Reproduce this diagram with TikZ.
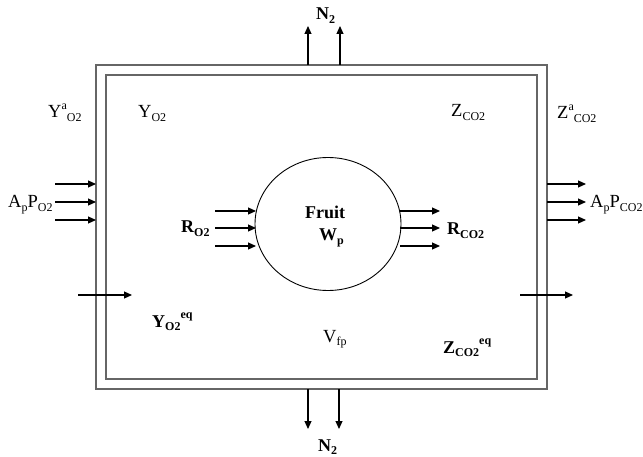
\documentclass[tikz,border=0pt]{standalone}
\usepackage{fontspec}
\setmainfont{Liberation Serif}
\usetikzlibrary{arrows.meta,shapes.geometric}
\newcommand\mylo[1]{\raisebox{-0.45ex}{\fontsize{12}{12}\selectfont #1}}
\newcommand\myhi[1]{\raisebox{1.0ex}{\fontsize{12}{12}\selectfont #1}}
\newcommand\mybl[1]{\raisebox{-0.45ex}{\fontsize{12}{12}\selectfont\bfseries #1}}
\newcommand\mybh[1]{\raisebox{1.0ex}{\fontsize{12}{12}\selectfont\bfseries #1}}
\tikzset{
  lbl/.style={anchor=base west,inner sep=0pt,font=\fontsize{18.5}{18.5}\selectfont},
  blbl/.style={anchor=base west,inner sep=0pt,font=\fontsize{18}{18}\selectfont\bfseries},
  wall/.style={draw=black!60,line width=1.3pt},
  flow/.style={draw=black,line width=1.2pt,-{Triangle[length=8pt,width=7pt]}}
}
\begin{document}
\begin{tikzpicture}[x=1pt,y=-1pt]
\useasboundingbox (0,0) rectangle (643,457);
% walls
\draw[wall] (96,65) rectangle (547,389);
\draw[wall] (106,75) rectangle (537,379);
% fruit
\node[ellipse,draw,line width=0.9pt,minimum width=146pt,minimum height=133pt,inner sep=0pt] (fruit) at (328,224) {};
\node[blbl] (fr) at (305,219) {Fruit};
\node[blbl] (wp) at (319,241) {W\mybl{p}};
% labels
\node[lbl] (yao2) at (48,118) {Y\myhi{a}\mylo{O2}};
\node[lbl] (yo2) at (138,118) {Y\mylo{O2}};
\node[lbl] (zco2) at (451,117) {Z\mylo{CO2}};
\node[lbl] (zaco2) at (557,119) {Z\myhi{a}\mylo{CO2}};
\node[lbl] (apo2) at (8,208) {A\mylo{p}P\mylo{O2}};
\node[lbl] (apco2) at (590,208) {A\mylo{p}P\mylo{CO2}};
\node[blbl] (ro2) at (181,233) {R\mybl{O2}};
\node[blbl] (rco2) at (447,235) {R\mybl{CO2}};
\node[blbl] (yeq) at (152,327) {Y\mybl{O2}\mybh{eq}};
\node[lbl] (vfp) at (323,342) {V\mylo{fp}};
\node[blbl] (zeq) at (443,353) {Z\mybl{CO2}\mybh{eq}};
\node[blbl] (n2t) at (316,20) {N\mybl{2}};
\node[blbl] (n2b) at (318,451) {N\mybl{2}};
% coordinates
\foreach \y/\n in {184/1,202/2,220/3}{
  \coordinate (la\n) at (55,\y); \coordinate (lb\n) at (96,\y);
  \coordinate (ra\n) at (547,\y); \coordinate (rb\n) at (586,\y);
}
\foreach \y/\n in {211/1,228/2,246/3}{
  \coordinate (fa\n) at (215,\y); \coordinate (fb\n) at (256,\y);
  \coordinate (ga\n) at (400,\y); \coordinate (gb\n) at (440,\y);
}
\coordinate (t1a) at (308,65); \coordinate (t1b) at (308,26);
\coordinate (t2a) at (340,65); \coordinate (t2b) at (340,26);
\coordinate (b1a) at (308,389); \coordinate (b1b) at (308,429);
\coordinate (b2a) at (339,389); \coordinate (b2b) at (339,429);
\coordinate (d1a) at (78,295); \coordinate (d1b) at (132,295);
\coordinate (d2a) at (520,295); \coordinate (d2b) at (573,295);
% arrows
\foreach \n in {1,2,3}{
  \draw[flow] (la\n) -- (lb\n);
  \draw[flow] (ra\n) -- (rb\n);
  \draw[flow] (fa\n) -- (fb\n);
  \draw[flow] (ga\n) -- (gb\n);
}
\draw[flow] (t1a) -- (t1b);
\draw[flow] (t2a) -- (t2b);
\draw[flow] (b1a) -- (b1b);
\draw[flow] (b2a) -- (b2b);
\draw[flow] (d1a) -- (d1b);
\draw[flow] (d2a) -- (d2b);
\end{tikzpicture}
\end{document}
